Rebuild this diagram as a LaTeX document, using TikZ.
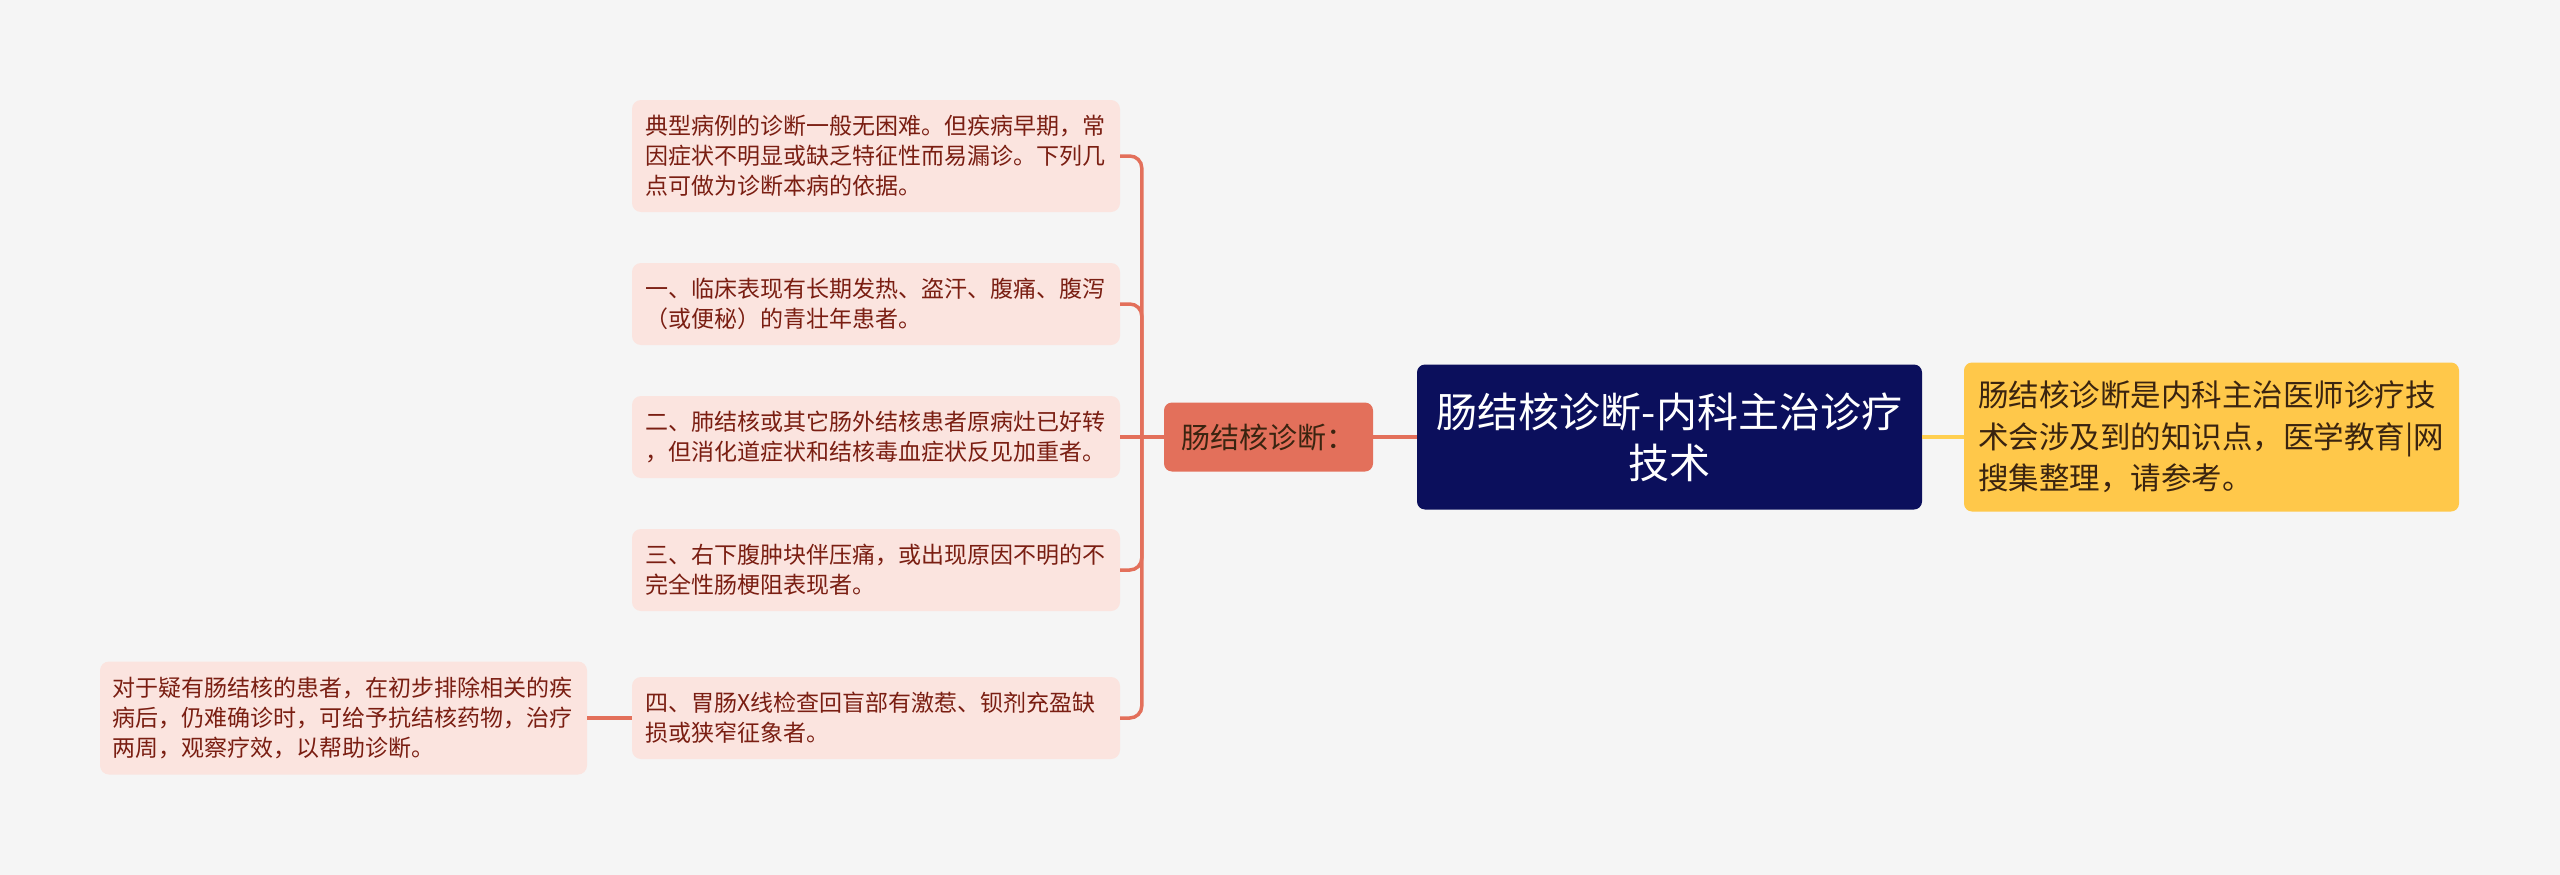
\documentclass[tikz,border=0pt]{standalone}
\usepackage{fontspec}
\setmainfont{Noto Sans CJK SC}
\definecolor{bg}{HTML}{F5F5F5}
\definecolor{childfill}{HTML}{FBE4DF}
\definecolor{childtext}{HTML}{7A1E12}
\definecolor{coral}{HTML}{E3705B}
\definecolor{navy}{HTML}{0B0F5C}
\definecolor{gold}{HTML}{FFC84A}
\definecolor{goldline}{HTML}{FFCF50}
\definecolor{darktext}{HTML}{3A2410}
\tikzset{
  child/.style={rectangle, rounded corners=9pt, fill=childfill, text=childtext,
    minimum width=488pt, align=left, text width=462pt, inner xsep=13pt, inner ysep=0pt,
    font=\fontsize{23}{30}\selectfont},
  link/.style={draw=coral, line width=3.5pt},
  ylink/.style={draw=goldline, line width=3.5pt},
}
\begin{document}
\begin{tikzpicture}[x=1pt,y=-1pt]
\fill[bg] (0,0) rectangle (2560,875);
\useasboundingbox (0,0) rectangle (2560,875);

% central
\node[rectangle, rounded corners=8pt, fill=navy, text=white, minimum width=505pt, minimum height=145pt,
  align=center, font=\fontsize{41}{51}\selectfont] (center) at (1669.5,437)
  {肠结核诊断-内科主治诊疗\\技术};

% right
\node[rectangle, rounded corners=8pt, fill=gold, text=darktext, minimum width=495pt, minimum height=149pt,
  align=left, text width=467pt, inner xsep=14pt, font=\fontsize{30.5}{41.5}\selectfont] (right) at (2211.5,437)
  {肠结核诊断是内科主治医师诊疗技\\术会涉及到的知识点，医学教育|网\\搜集整理，请参考。};

% left level 1
\node[rectangle, rounded corners=8pt, fill=coral, text=darktext, minimum width=209pt, minimum height=69pt,
  font=\fontsize{29}{34}\selectfont] (L) at (1268.5,437) {肠结核诊断：};

% children
\node[child, minimum height=112pt] (c1) at (876,156) {典型病例的诊断一般无困难。但疾病早期，常\\因症状不明显或缺乏特征性而易漏诊。下列几\\点可做为诊断本病的依据。};
\node[child, minimum height=82pt] (c2) at (876,304) {一、临床表现有长期发热、盗汗、腹痛、腹泻\\（或便秘）的青壮年患者。};
\node[child, minimum height=82pt] (c3) at (876,437) {二、肺结核或其它肠外结核患者原病灶已好转\\，但消化道症状和结核毒血症状反见加重者。};
\node[child, minimum height=82pt] (c4) at (876,570) {三、右下腹肿块伴压痛，或出现原因不明的不\\完全性肠梗阻表现者。};
\node[child, minimum height=82pt] (c5) at (876,718) {四、胃肠X线检查回盲部有激惹、钡剂充盈缺\\损或狭窄征象者。};

% far left
\node[child, minimum width=487pt, minimum height=113pt, inner xsep=12pt, text width=463pt] (far) at (343.5,718)
  {对于疑有肠结核的患者，在初步排除相关的疾\\病后，仍难确诊时，可给予抗结核药物，治疗\\两周，观察疗效，以帮助诊断。};

% connectors
\draw[ylink] (center.east) -- (right.west);
\draw[link] (center.west) -- (L.east);
\draw[link] (L.west) -- ++(-22,0) coordinate (tr);
\draw[link, rounded corners=12pt] (tr) |- (c1.east);
\draw[link, rounded corners=12pt] (tr) |- (c2.east);
\draw[link] (tr) -- (c3.east);
\draw[link, rounded corners=12pt] (tr) |- (c4.east);
\draw[link, rounded corners=12pt] (tr) |- (c5.east);
\draw[link] (c5.west) -- (far.east);
\end{tikzpicture}
\end{document}
